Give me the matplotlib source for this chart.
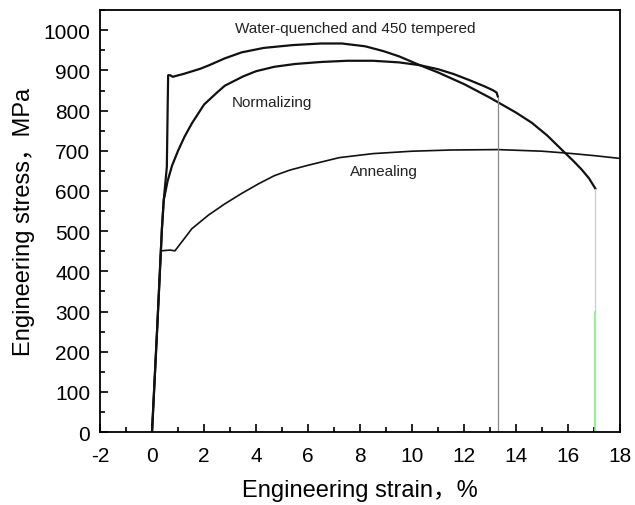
import matplotlib.pyplot as plt
from matplotlib.ticker import MultipleLocator

plt.rcParams['axes.unicode_minus'] = False

# water-quenched and 450 tempered
wq_strain = [0, 0.2, 0.38, 0.45, 0.57, 0.6, 0.62, 0.7, 0.8, 0.9, 1.2, 1.5, 1.85, 2.2,
             2.8, 3.45, 4.3, 5.4, 6.5, 7.3, 8.2, 8.9, 9.5, 10.3, 11.0, 12.0, 13.0,
             14.0, 14.6, 15.2, 15.8, 16.2, 16.5, 16.8, 17.05]
wq_stress = [0, 260, 505, 577, 660, 800, 888, 888, 884, 886, 891, 897, 904, 913,
             930, 945, 956, 963, 967, 967, 960, 948, 935, 913, 895, 866, 832,
             795, 770, 738, 700, 675, 655, 632, 606]

norm_strain = [0, 0.2, 0.38, 0.45, 0.6, 0.77, 1.0, 1.25, 1.53, 2.0, 2.5, 2.8, 3.5, 4.0,
               4.7, 5.5, 6.5, 7.5, 8.5, 9.5, 10.3, 11.0, 11.6, 12.2, 12.8, 13.1, 13.25,
               13.3]
norm_stress = [0, 260, 505, 577, 625, 663, 700, 735, 768, 815, 845, 862, 885, 898,
               909, 916, 921, 924, 924, 920, 913, 903, 891, 876, 860, 851, 845,
               835]

anneal_strain = [0, 0.2, 0.34, 0.5, 0.7, 0.88, 1.2, 1.53, 2.17, 2.8, 3.45, 4.1, 4.7,
                 5.3, 6.0, 7.2, 8.5, 10.0, 11.5, 13.3, 15.0, 16.0, 17.0, 18.0]
anneal_stress = [0, 260, 451, 452, 453, 451, 478, 506, 540, 568, 594, 618, 638,
                 652, 664, 683, 693, 699, 702, 703, 699, 694, 688, 681]

green_top = 300

font = ['Liberation Sans', 'Noto Sans CJK SC']

fig = plt.figure(figsize=(6.35, 5.06), dpi=100)
ax = fig.add_axes([0.1575, 0.144, 0.819, 0.834])

ax.plot(anneal_strain, anneal_stress, color='#111111', lw=1.2)
ax.plot(norm_strain, norm_stress, color='#111111', lw=1.6)
ax.plot(wq_strain, wq_stress, color='#111111', lw=1.6)

# fracture drops
ax.plot([norm_strain[-1]] * 2, [norm_stress[-1], 0], color='#888888', lw=0.9)
ax.plot([wq_strain[-1]] * 2, [wq_stress[-1], green_top], color='#cccccc', lw=0.9)
ax.plot([wq_strain[-1]] * 2, [green_top, 0], color='#7ef07e', lw=1.2)

ax.text(7.8, 1005, 'Water-quenched and 450 tempered', family=font, fontsize=11,
        ha='center', va='center', color='#222222')
ax.text(4.6, 822, 'Normalizing', family=font, fontsize=11,
        ha='center', va='center', color='#222222')
ax.text(8.9, 650, 'Annealing', family=font, fontsize=11,
        ha='center', va='center', color='#222222')

ax.set_xlim(-2, 18)
ax.set_ylim(0, 1050)
ax.xaxis.set_major_locator(MultipleLocator(2))
ax.xaxis.set_minor_locator(MultipleLocator(1))
ax.yaxis.set_major_locator(MultipleLocator(100))
ax.yaxis.set_minor_locator(MultipleLocator(50))
ax.tick_params(which='both', direction='in', top=False, right=False, width=1.2)
ax.tick_params(which='major', length=6, labelsize=15)
ax.tick_params(which='minor', length=3.5)
ax.tick_params(axis='x', which='major', pad=10)
ax.tick_params(axis='y', which='major', pad=7)
for lab in ax.get_xticklabels() + ax.get_yticklabels():
    lab.set_family(font)
for s in ax.spines.values():
    s.set_linewidth(1.3)

ax.set_xlabel('Engineering strain，%', family=font, fontsize=17, labelpad=10)
ax.set_ylabel('Engineering stress，MPa', family=font, fontsize=17, labelpad=6)

fig.savefig('out.png', dpi=100)
